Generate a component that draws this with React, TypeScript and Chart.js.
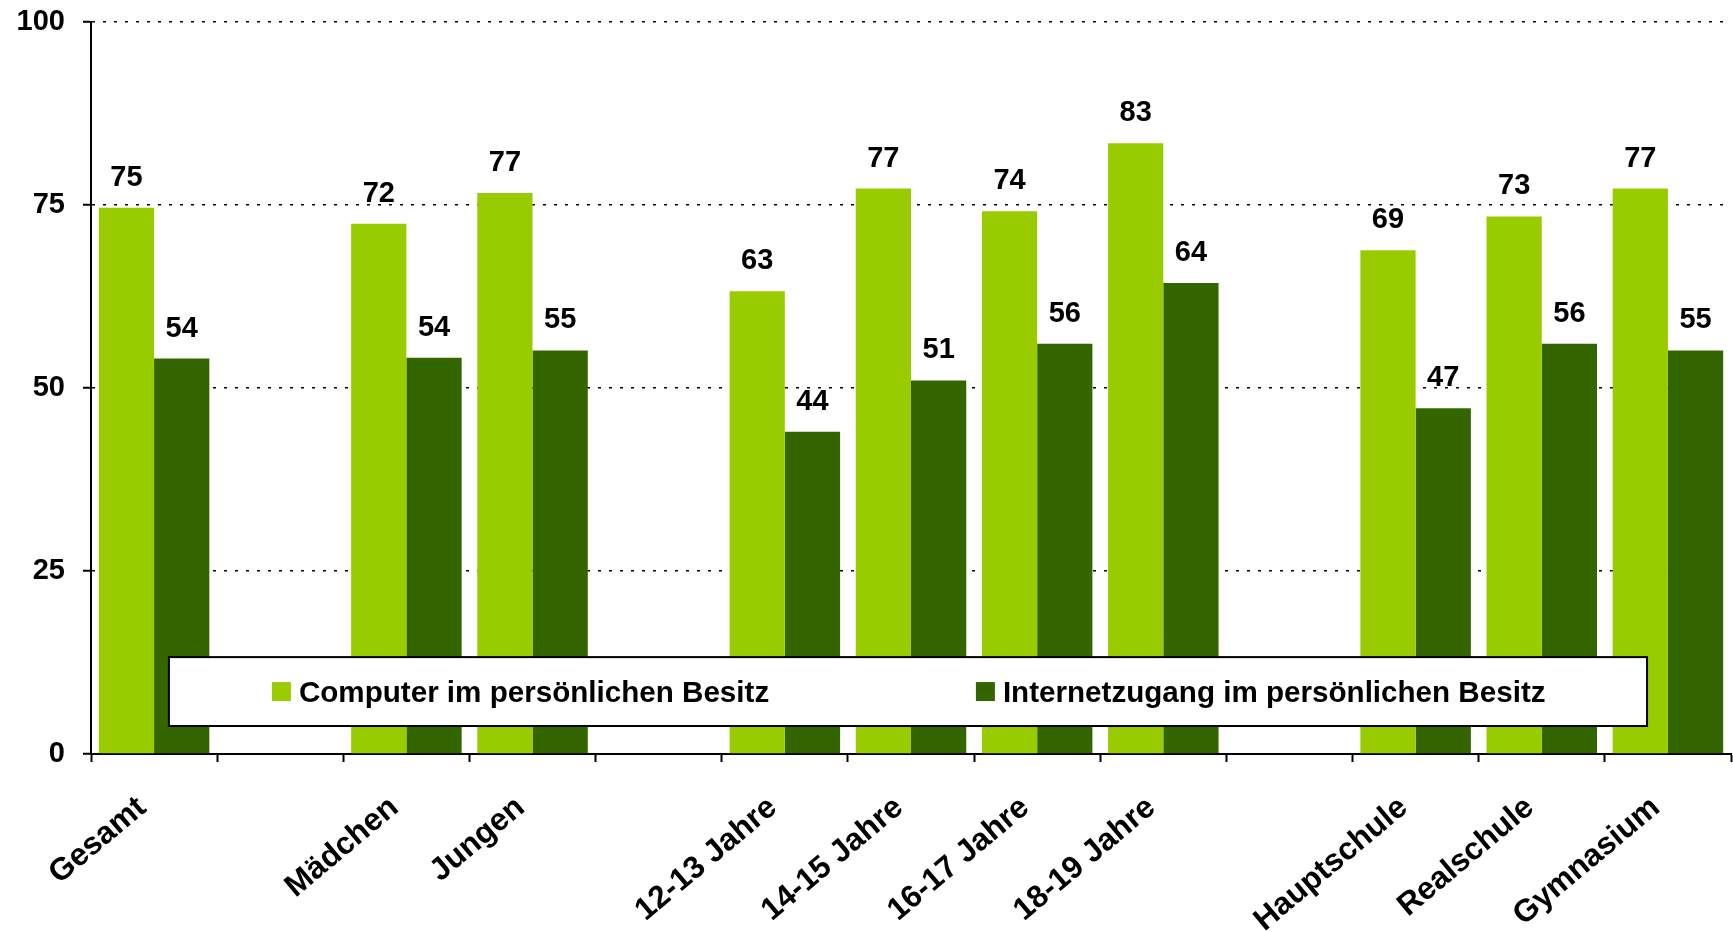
import React, { useEffect, useRef } from 'react';
import { Chart, registerables } from 'chart.js';

Chart.register(...registerables);

const categories = [
  'Gesamt', '', 'Mädchen', 'Jungen', '',
  '12-13 Jahre', '14-15 Jahre', '16-17 Jahre', '18-19 Jahre', '',
  'Hauptschule', 'Realschule', 'Gymnasium',
];
const computerValues = [74.6, null, 72.4, 76.6, null, 63.2, 77.2, 74.1, 83.4, null, 68.8, 73.4, 77.2];
const internetValues = [54.0, null, 54.1, 55.1, null, 44.0, 51.0, 56.0, 64.3, null, 47.2, 56.0, 55.1];
const seriesNames = ['Computer im persönlichen Besitz', 'Internetzugang im persönlichen Besitz'];
const seriesColors = ['#99CC00', '#336600'];
const yTickValues = [0, 25, 50, 75, 100];

const FONT = '"Liberation Sans", Arial, Helvetica, sans-serif';

const valueLabels = {
  id: 'valueLabels',
  afterDatasetsDraw(chart: any) {
    const ctx = chart.ctx;
    ctx.save();
    ctx.font = `bold 29px ${FONT}`;
    ctx.fillStyle = '#000';
    ctx.textAlign = 'center';
    ctx.textBaseline = 'alphabetic';
    chart.data.datasets.forEach((ds: any, i: number) => {
      const meta = chart.getDatasetMeta(i);
      meta.data.forEach((bar: any, j: number) => {
        const v = ds.data[j];
        if (v == null) return;
        ctx.fillText(String(Math.round(v)), bar.x, bar.y - 22);
      });
    });
    ctx.restore();
  },
};

const boxLegend = {
  id: 'boxLegend',
  afterDraw(chart: any) {
    const { ctx, chartArea: a } = chart;
    const w = a.right - a.left;
    const h = a.bottom - a.top;
    const x0 = a.left + w * 0.0475;
    const x1 = a.left + w * 0.9488;
    const y0 = a.top + h * 0.8677;
    const y1 = a.top + h * 0.9618;
    ctx.save();
    ctx.fillStyle = '#fff';
    ctx.fillRect(x0, y0, x1 - x0, y1 - y0);
    ctx.lineWidth = 2;
    ctx.strokeStyle = '#000';
    ctx.strokeRect(x0, y0, x1 - x0, y1 - y0);
    const cy = (y0 + y1) / 2;
    const offsets = [103, 807];
    ctx.font = `bold 29.6px ${FONT}`;
    ctx.textAlign = 'left';
    ctx.textBaseline = 'alphabetic';
    chart.data.datasets.forEach((ds: any, i: number) => {
      const lx = x0 + offsets[i];
      ctx.fillStyle = ds.backgroundColor;
      ctx.fillRect(lx, cy - 9.5, 19, 19);
      ctx.fillStyle = '#000';
      ctx.fillText(ds.label, lx + 27, cy + 10.5);
    });
    ctx.restore();
  },
};

export default function App() {
  const canvasRef = useRef<HTMLCanvasElement | null>(null);

  useEffect(() => {
    if (!canvasRef.current) return;
    Chart.defaults.font.family = FONT;
    const chart = new Chart(canvasRef.current, {
      type: 'bar',
      data: {
        labels: categories,
        datasets: [
          { label: seriesNames[0], data: computerValues, backgroundColor: seriesColors[0], borderWidth: 0 },
          { label: seriesNames[1], data: internetValues, backgroundColor: seriesColors[1], borderWidth: 0 },
        ],
      },
      options: {
        animation: false,
        responsive: false,
        datasets: { bar: { categoryPercentage: 0.876, barPercentage: 1 } },
        layout: { padding: { top: 0, right: 2, left: 1, bottom: 0 } },
        plugins: { legend: { display: false }, tooltip: { enabled: false } },
        scales: {
          x: {
            grid: { offset: true, drawOnChartArea: false, drawTicks: true, tickLength: 8, tickColor: '#000', tickWidth: 2 },
            border: { display: true, color: '#000', width: 2 },
            ticks: {
              autoSkip: false,
              maxRotation: 40,
              minRotation: 40,
              padding: 27,
              labelOffset: -12,
              color: '#000',
              font: { size: 31.5, weight: 'bold', family: FONT },
            },
            afterFit(scale: any) { scale.height = 178; },
          },
          y: {
            min: 0,
            max: 100,
            afterBuildTicks(scale: any) { scale.ticks = yTickValues.map((v) => ({ value: v })); },
            ticks: { padding: 18, color: '#000', font: { size: 29, weight: 'bold', family: FONT, lineHeight: 0.25 } },
            grid: { color: '#000', lineWidth: 1.5, drawTicks: true, tickLength: 8, tickColor: '#000', tickWidth: 2, tickBorderDash: [] },
            border: { display: true, color: '#000', width: 2, dash: [3, 8] },
            afterFit(scale: any) { scale.width = 90; },
          },
        },
      },
      plugins: [valueLabels, boxLegend],
    } as any);
    return () => chart.destroy();
  }, []);

  return (
    <div style={{ position: 'absolute', left: 0, top: 0, width: 1733, height: 932, background: '#fff' }}>
      <canvas ref={canvasRef} width={1733} height={932} />
    </div>
  );
}
